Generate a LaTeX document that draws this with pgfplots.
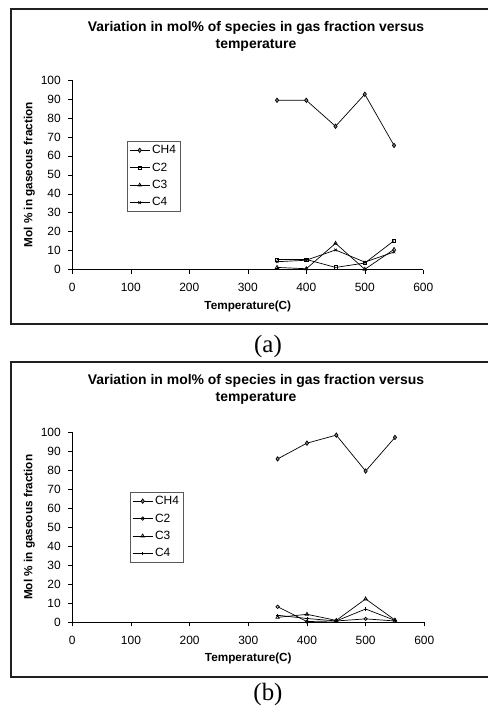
\documentclass[border=0pt]{standalone}
\usepackage{fontspec}
\setmainfont{Liberation Sans}
\newfontfamily\capfont{Liberation Serif}
\usepackage{pgfplots}
\pgfplotsset{compat=1.18}

% mol% of each species, panel (a)
\pgfplotstableread{
T    CH4   C2    C3    C4
350  89.3  5.4   1.2   4.2
400  89.3  5.4   0.5   5.0
450  75.6  1.2   13.9  10.4
500  92.5  3.5   0.2   4.0
550  65.5  15.3  10.7  9.3
}\dataA
% panel (b)
\pgfplotstableread{
T    CH4   C2    C3    C4
350  86.0  8.2   2.6   3.7
400  94.3  0.4   4.2   2.0
450  98.5  0.7   1.0   0.7
500  79.6  1.8   12.3  7.0
550  97.3  0.7   1.2   1.0
}\dataB

\pgfplotsset{
  gasaxis/.style={
    scale only axis,
    xmin=0, xmax=600, ymin=0, ymax=100,
    axis lines=left,
    axis line style={-, black, line width=0.6bp},
    xtick={0,100,...,600},
    ytick={0,10,...,100},
    tick align=outside,
    major tick length=4bp,
    tick style={black, line width=0.6bp},
    /pgf/number format/assume math mode=true,
    ticklabel style={font=\fontsize{12}{14}\selectfont},
    xticklabel style={yshift=-6bp},
    yticklabel style={xshift=-4bp},
    xlabel={\textbf{Temperature(C)}},
    ylabel={\textbf{Mol \% in gaseous fraction}},
    label style={font=\fontsize{11.8}{13}\selectfont},
    xlabel style={at={([yshift=-36.5bp]axis description cs:0.5,0)}, anchor=center},
    ylabel style={at={([xshift=-43bp]axis description cs:0,0.5)}, anchor=center},
    legend cell align=left,
    legend style={draw=gray!70!black, line width=0.6bp,
      font=\fontsize{12}{14}\selectfont, row sep=3.6bp,
      inner sep=2bp},
    legend image code/.code={%
      \draw[mark repeat=2,mark phase=2] plot coordinates {(0bp,0bp)(10bp,0bp)(20bp,0bp)};},
    every axis plot/.append style={black, line width=0.7bp, mark options={solid, fill=white}},
  },
}

\begin{document}
\begin{tikzpicture}
\useasboundingbox (0,0) rectangle (488bp,707bp);

% ---- panel (a)
\draw[line width=1.3bp, gray!25!black] (488bp,698bp) -- (11bp,698bp) -- (11bp,383bp) -- (488bp,383bp);
\node[align=center, font=\fontsize{14}{17}\selectfont\bfseries] at (256bp,670.5bp)
  {Variation in mol\% of species in gas fraction versus\\temperature};
\begin{axis}[gasaxis, width=351bp, height=189.7bp,
    at={(72.3bp,437.3bp)}, anchor=south west,
    legend style={at={(0.156,0.678)}, anchor=north west}]
\addplot[mark=diamond*, mark size=2.2bp, mark options={fill=gray}] table[x=T,y=CH4] {\dataA};
\addlegendentry{CH4}
\addplot[mark=square, mark size=1.6bp] table[x=T,y=C2] {\dataA};
\addlegendentry{C2}
\addplot[mark=triangle, mark size=2bp] table[x=T,y=C3] {\dataA};
\addlegendentry{C3}
\addplot[mark=x, mark size=1.8bp] table[x=T,y=C4] {\dataA};
\addlegendentry{C4}
\end{axis}
\node[font=\capfont\fontsize{25}{28}\selectfont] at (268bp,360.5bp) {(a)};

% ---- panel (b)
\draw[line width=1.3bp, gray!25!black] (488bp,345bp) -- (11bp,345bp) -- (11bp,30bp) -- (488bp,30bp);
\node[align=center, font=\fontsize{14}{17}\selectfont\bfseries] at (256bp,318bp)
  {Variation in mol\% of species in gas fraction versus\\temperature};
\begin{axis}[gasaxis, width=352bp, height=190bp,
    at={(72.3bp,84.7bp)}, anchor=south west,
    legend style={at={(0.164,0.686)}, anchor=north west}]
\addplot[mark=diamond*, mark size=2.2bp, mark options={fill=gray}] table[x=T,y=CH4] {\dataB};
\addlegendentry{CH4}
\addplot[mark=o, mark size=1.7bp] table[x=T,y=C2] {\dataB};
\addlegendentry{C2}
\addplot[mark=triangle, mark size=2bp] table[x=T,y=C3] {\dataB};
\addlegendentry{C3}
\addplot[mark=+, mark size=1.6bp] table[x=T,y=C4] {\dataB};
\addlegendentry{C4}
\end{axis}
\node[font=\capfont\fontsize{25}{28}\selectfont] at (268bp,12bp) {(b)};
\end{tikzpicture}
\end{document}
